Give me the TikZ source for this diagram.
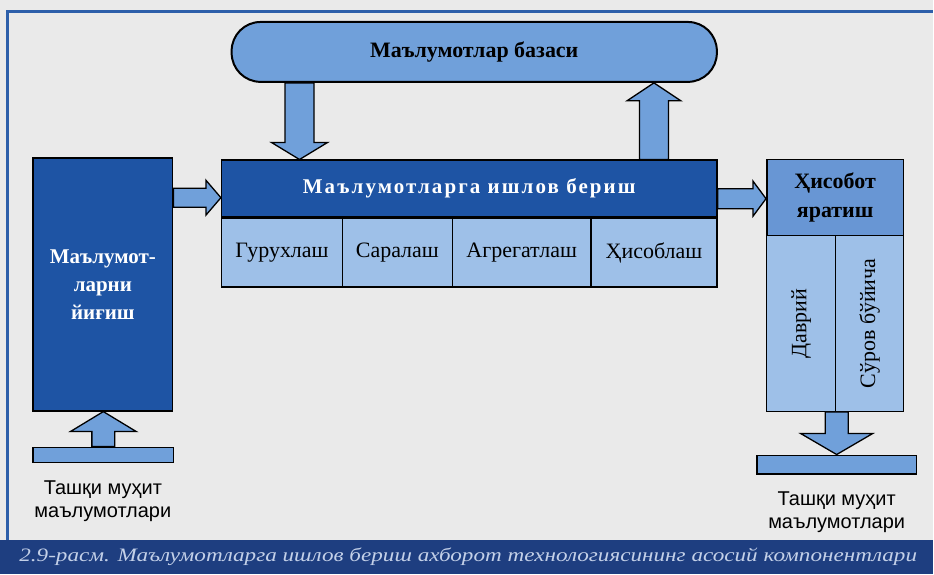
\documentclass[tikz,border=0pt]{standalone}
\usepackage{fontspec}
\setmainfont{Liberation Serif}
\newfontfamily\labelfont{Liberation Sans}
\usetikzlibrary{calc}
\definecolor{pagegray}{RGB}{234,234,234}
\definecolor{frameblue}{RGB}{45,95,170}
\definecolor{capblue}{RGB}{30,62,128}
\definecolor{captext}{RGB}{195,208,232}
\definecolor{boxblue}{RGB}{30,84,164}
\definecolor{dbblue}{RGB}{112,160,218}
\definecolor{celblue}{RGB}{158,192,232}
\definecolor{repblue}{RGB}{104,150,212}

\begin{document}
\begin{tikzpicture}[x=1pt,y=-1pt,
  darkbox/.style={rectangle,draw=black,line width=1.5pt,fill=boxblue,
    text=white,align=center,inner sep=0pt,
    font=\bfseries\fontsize{21}{28}\selectfont},
  cell/.style={rectangle,draw=black,line width=1.3pt,fill=celblue,
    inner sep=0pt,minimum height=69pt,font=\fontsize{22}{24}\selectfont},
  bar/.style={rectangle,draw=black,line width=1.5pt,fill=dbblue,inner sep=0pt},
  outside/.style={align=center,font=\labelfont\fontsize{20}{24}\selectfont},
  fatarrow/.style n args={3}{fill=dbblue,draw=black,line width=1.3pt,
    to path={let \p1=(\tikztostart), \p2=(\tikztotarget),
      \n1={veclen(\x2-\x1,\y2-\y1)}, \n2={atan2(\y2-\y1,\x2-\x1)} in
      {[shift={(\p1)},rotate=\n2]
       (0,-#1) -- ({\n1-#3},-#1) -- ({\n1-#3},-#2) -- (\n1,0)
       -- ({\n1-#3},#2) -- ({\n1-#3},#1) -- (0,#1) -- cycle}}}
]
  % page, frame and caption
  \fill[pagegray] (0,0) rectangle (934,575);
  \draw[frameblue,line width=3pt] (8,541) -- (8,12) -- (934,12);
  \fill[capblue] (0,541) rectangle (934,575);
  \node[text=captext,font=\itshape\fontsize{19}{19}\selectfont] (cap) at (469,558)
    {\scalebox{1.22}[1]{2.9-расм. Маълумотларга ишлов бериш ахборот технологиясининг асосий компонентлари}};

  % database
  \node[rectangle,rounded corners=29pt,draw=black,line width=2pt,fill=dbblue,
    minimum width=486pt,minimum height=60pt,
    font=\bfseries\fontsize{22}{24}\selectfont] (db) at (475,52) {Маълумотлар базаси};

  % collecting
  \node[darkbox,minimum width=140pt,minimum height=253pt] (collect) at (103,285)
    {Маълумот-\\ларни\\йиғиш};

  % processing
  \node[darkbox,minimum width=496pt,minimum height=57pt] (proc) at (470,189)
    {\addfontfeature{LetterSpace=10}\raisebox{3pt}{Маълумотларга ишлов бериш}};
  \node[cell,minimum width=121pt] (group) at (282.5,253) {Гурухлаш};
  \node[cell,minimum width=110pt] (sort) at (398,253) {Саралаш};
  \node[cell,minimum width=139pt] (aggr) at (522.5,253) {Агрегатлаш};
  \node[cell,minimum width=126pt] (calc) at (655,253) {Ҳисоблаш};

  % reports
  \node[rectangle,draw=black,line width=1.5pt,fill=repblue,align=center,
    minimum width=137pt,minimum height=76pt,inner sep=0pt,
    font=\bfseries\fontsize{22}{29}\selectfont] (report) at (836.5,198)
    {Ҳисобот\\яратиш};
  \node[cell,minimum width=69pt,minimum height=176pt] (period) at (802.5,324)
    {\rotatebox{90}{Даврий}};
  \node[cell,minimum width=68pt,minimum height=176pt] (query) at (871,324)
    {\rotatebox{90}{Сўров бўйича}};

  % outer environment
  \node[bar,minimum width=141pt,minimum height=15pt] (inbar) at (103.5,455.5) {};
  \node[bar,minimum width=160pt,minimum height=19pt] (outbar) at (838,465.5) {};
  \node[outside] (inlabel) at (103,502) {Ташқи муҳит\\маълумотлари};
  \node[outside] (outlabel) at (838,513) {Ташқи муҳит\\маълумотлари};

  % arrows
  \draw[fatarrow={14.5}{28}{17}] (db.south -| 300,0) to (proc.north -| 300,0);
  \draw[fatarrow={14.5}{27}{18}] (proc.north -| 655,0) to (db.south -| 655,0);
  \draw[fatarrow={9.5}{17.5}{15}] (collect.east |- 0,198) to (proc.west |- 0,198);
  \draw[fatarrow={10}{17.5}{13}] (proc.east |- 0,199) to (report.west |- 0,199);
  \draw[fatarrow={11.5}{33}{20}] (inbar.north) to (collect.south -| inbar.north);
  \draw[fatarrow={11.5}{36}{21}] (period.south -| outbar.north) to (outbar.north);
\end{tikzpicture}
\end{document}
